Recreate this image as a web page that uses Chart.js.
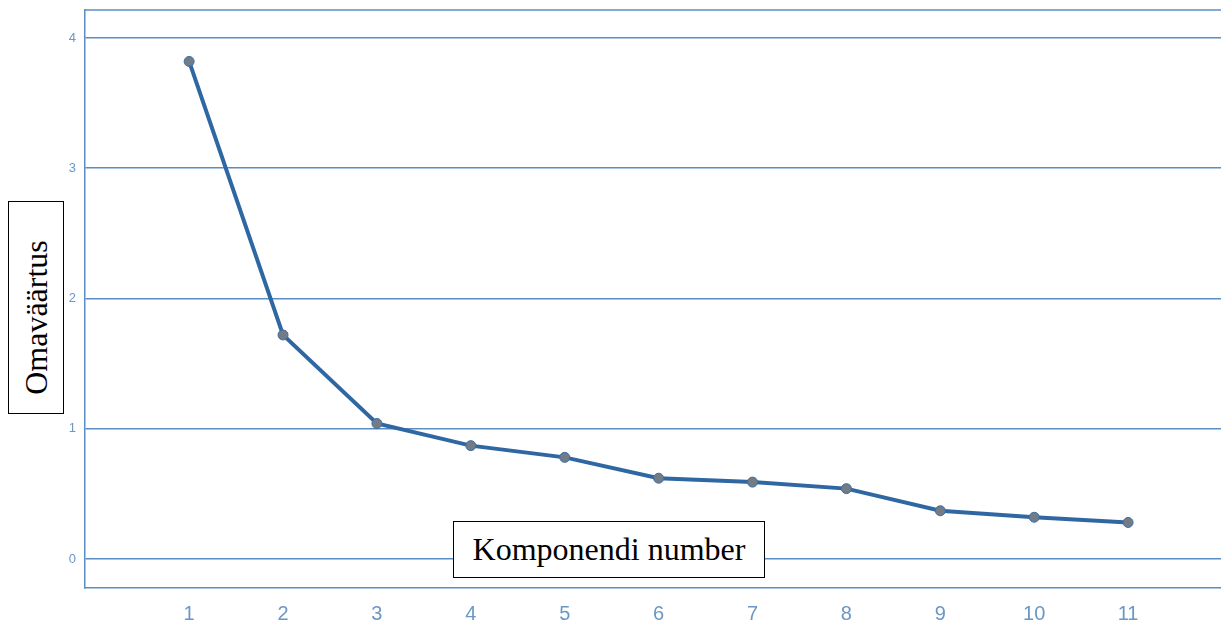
<!DOCTYPE html>
<html>
<head>
<meta charset="utf-8">
<script src="https://cdn.jsdelivr.net/npm/chart.js@4/dist/chart.umd.min.js"></script>
<style>
    html, body { margin: 0; padding: 0; background: #fff; overflow: hidden; }
    #wrap { position: relative; width: 1221px; height: 625px; overflow: hidden; }
    .lbl {
        position: absolute; background: #fff; border: 1px solid #000;
        font-family: "Liberation Serif", "Times New Roman", serif; color: #000;
        box-sizing: border-box; display: flex; align-items: center; justify-content: center;
    }
    #ylbl { left: 8px; top: 201px; width: 56px; height: 213px; }
    #ylbl span { transform: translateY(10px) rotate(-90deg); white-space: nowrap; font-size: 32px; }
    #xlbl { left: 453px; top: 521px; width: 312px; height: 57px; font-size: 32px; }
</style>
</head>
<body>
<div id="wrap">
    <canvas id="scree" width="1228" height="625"></canvas>
    <div class="lbl" id="ylbl"><span>Omaväärtus</span></div>
    <div class="lbl" id="xlbl">Komponendi number</div>
</div>
<script>
const components = [1, 2, 3, 4, 5, 6, 7, 8, 9, 10, 11];
const eigenvalues = [3.82, 1.72, 1.04, 0.87, 0.78, 0.62, 0.59, 0.54, 0.37, 0.32, 0.28];
const yTicks = [0, 1, 2, 3, 4];

const gridBlue = "#5b8dc4";
const tickBlue = "#6b97c6";

// top frame line (chart.js only draws left/bottom borders)
const frameTop = {
    id: "frameTop",
    beforeDatasetsDraw(chart) {
        const { ctx, chartArea } = chart;
        ctx.save();
        ctx.strokeStyle = gridBlue;
        ctx.lineWidth = 1.5;
        ctx.beginPath();
        ctx.moveTo(chartArea.left, chartArea.top);
        ctx.lineTo(chartArea.right, chartArea.top);
        ctx.stroke();
        ctx.restore();
    }
};

function noPad(axis) {
    axis.paddingLeft = 0;
    axis.paddingRight = 0;
    axis.paddingTop = 0;
    axis.paddingBottom = 0;
}

new Chart(document.getElementById("scree"), {
    type: "line",
    data: {
        datasets: [{
            data: components.map((c, i) => ({ x: c, y: eigenvalues[i] })),
            borderColor: "#2f67a3",
            borderWidth: 4,
            pointRadius: 5,
            pointBackgroundColor: "#737b85",
            pointBorderColor: "#3a6ea8",
            pointBorderWidth: 1,
            tension: 0
        }]
    },
    options: {
        responsive: false,
        animation: false,
        layout: { padding: { left: 0, right: 0, top: 10, bottom: 0 } },
        plugins: { legend: { display: false }, tooltip: { enabled: false } },
        scales: {
            x: {
                type: "linear",
                min: -0.109,
                max: 12.0,
                afterBuildTicks: axis => { axis.ticks = components.map(v => ({ value: v })); },
                afterFit: axis => { axis.height = 37; noPad(axis); },
                grid: { display: false, drawTicks: false },
                border: { color: gridBlue, width: 1.5 },
                ticks: {
                    color: tickBlue,
                    padding: 14,
                    font: { family: "Arial, 'Liberation Sans', sans-serif", size: 20 }
                }
            },
            y: {
                min: -0.223,
                max: 4.215,
                afterBuildTicks: axis => { axis.ticks = yTicks.map(v => ({ value: v })); },
                afterFit: axis => { axis.width = 85; noPad(axis); },
                grid: { color: gridBlue, lineWidth: 1.5, drawTicks: false },
                border: { color: gridBlue, width: 1.5 },
                ticks: {
                    color: tickBlue,
                    padding: 9,
                    font: { family: "Arial, 'Liberation Sans', sans-serif", size: 13 }
                }
            }
        }
    },
    plugins: [frameTop]
});
</script>
</body>
</html>
